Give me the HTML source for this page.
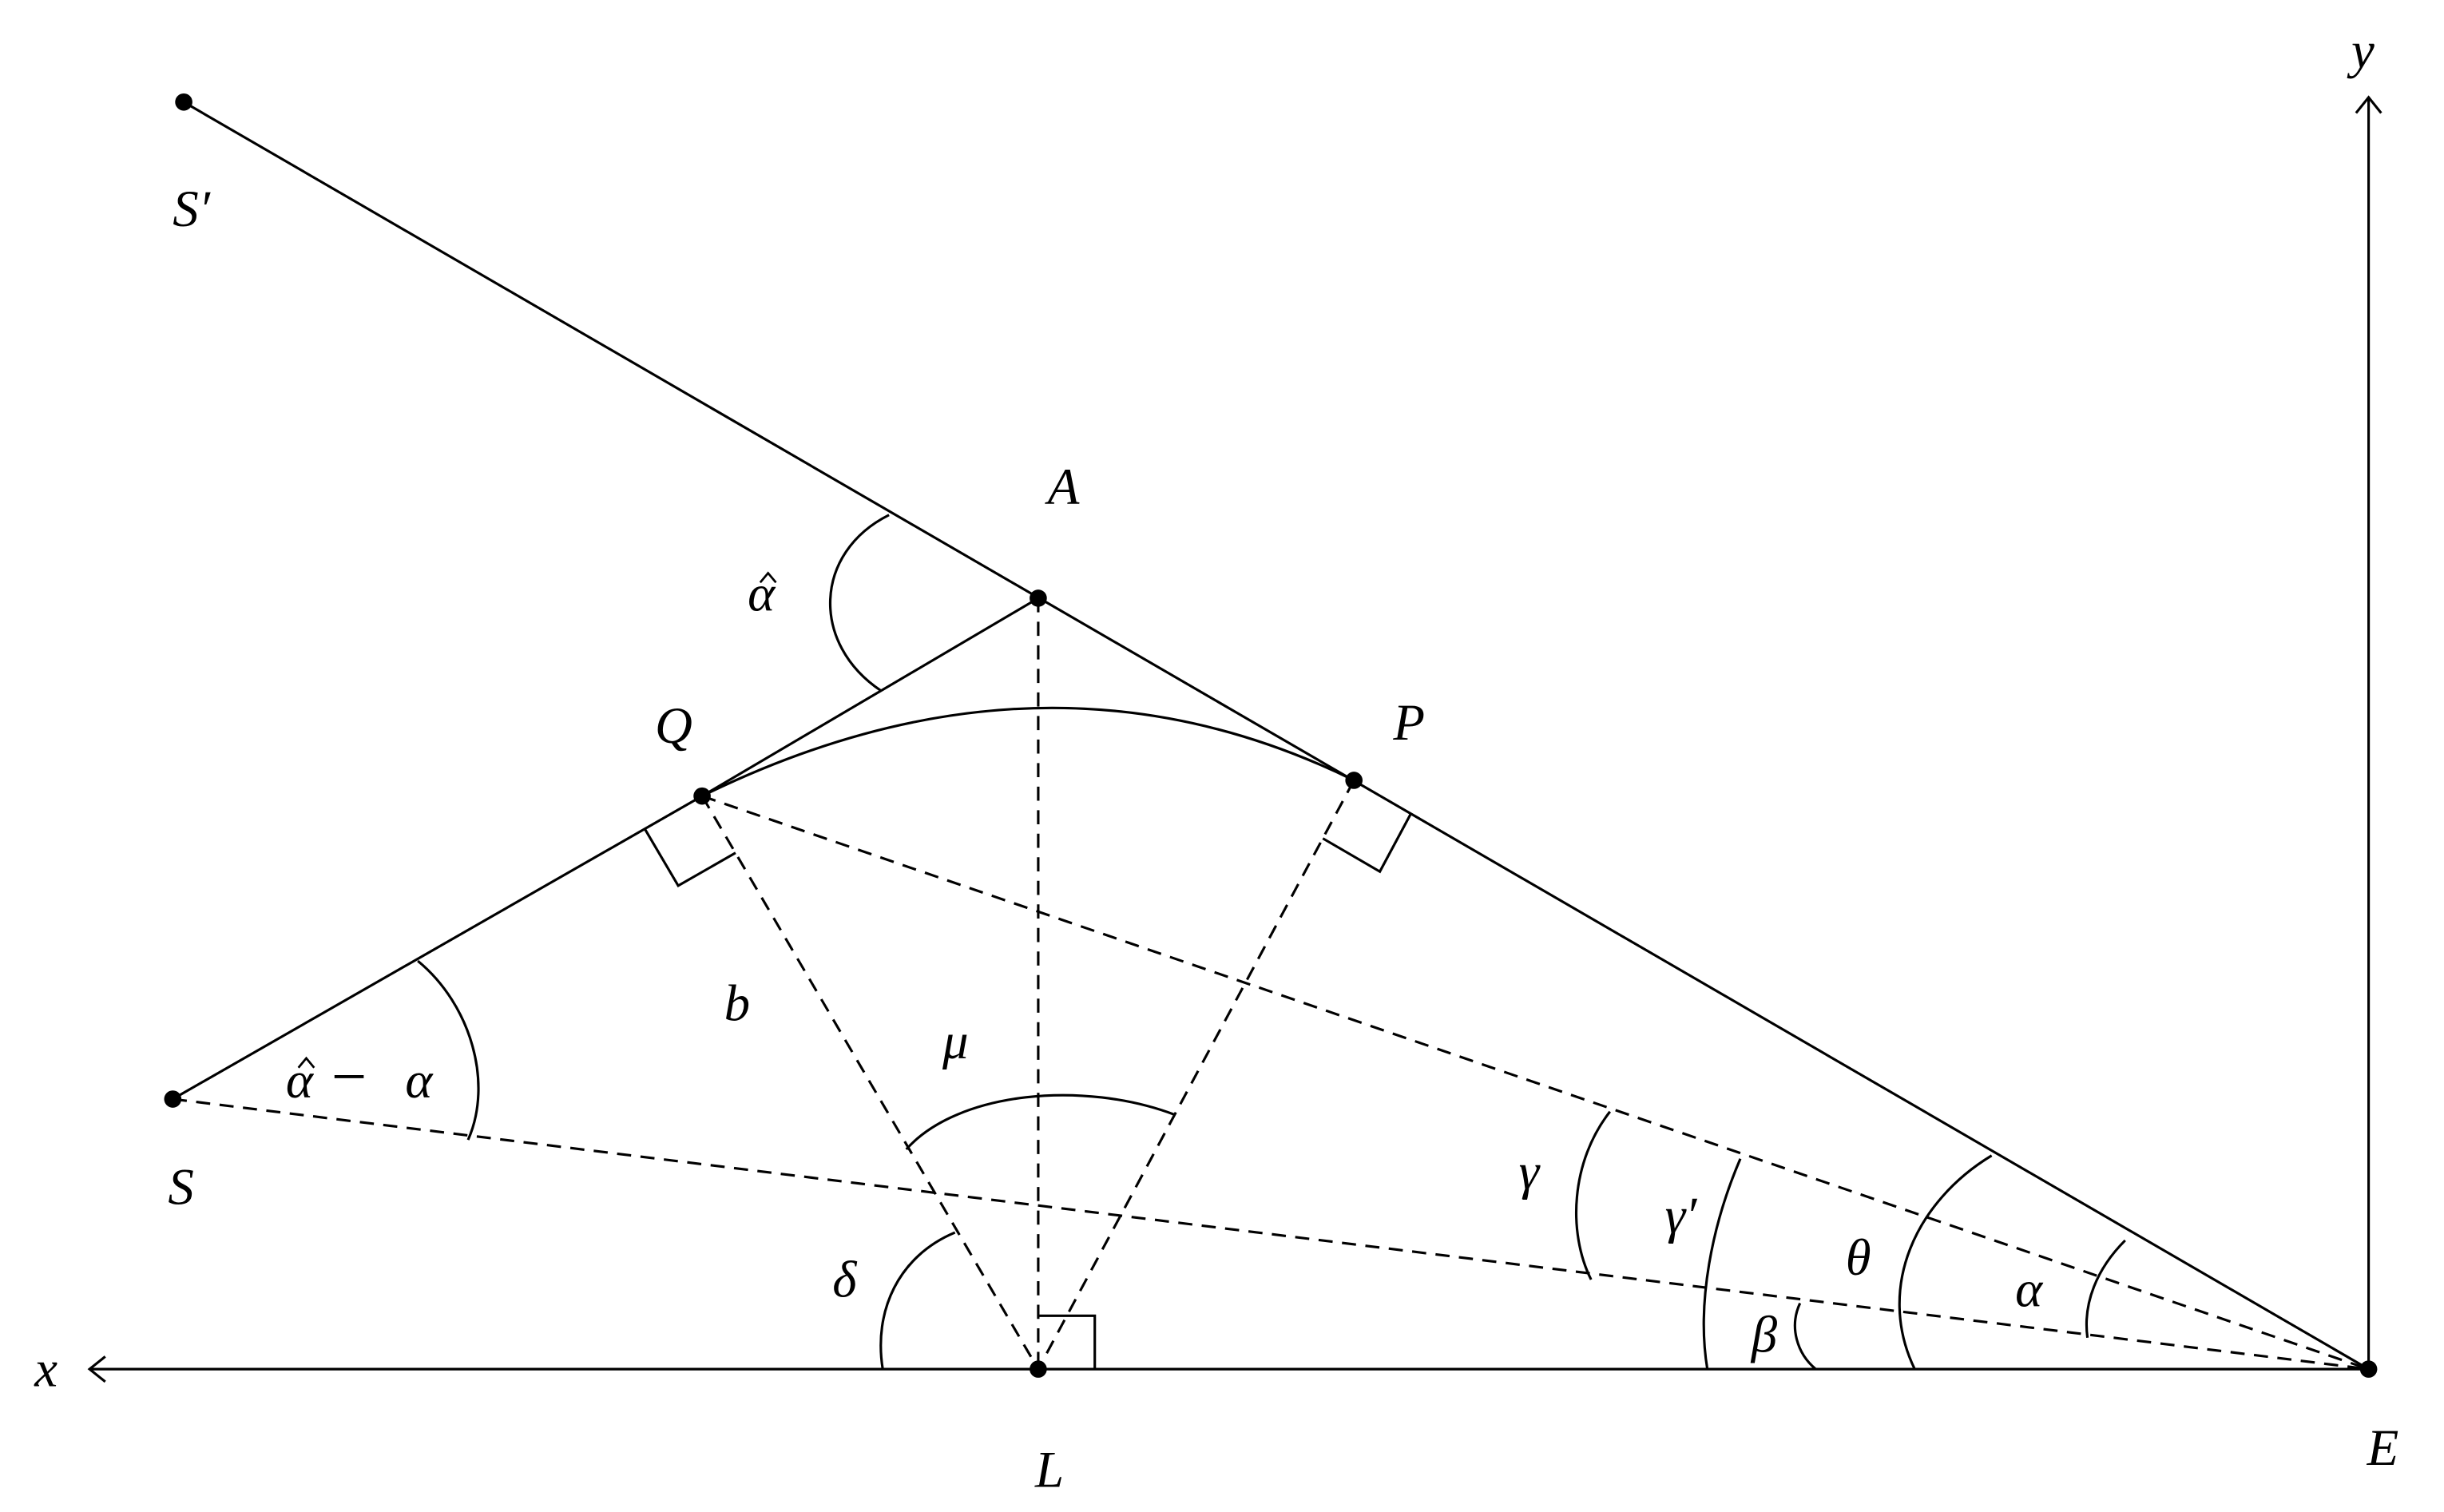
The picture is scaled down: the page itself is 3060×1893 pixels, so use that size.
<!DOCTYPE html>
<html><head><meta charset="utf-8"><style>
html,body{margin:0;padding:0;background:#fff;}
svg{display:block;}
text{font-family:"Liberation Serif",serif;font-style:italic;font-size:33px;fill:#000;}
</style></head><body>
<svg width="3060" height="1893" viewBox="0 0 1556 963" preserveAspectRatio="none" xmlns="http://www.w3.org/2000/svg">
<g fill="none" stroke="#000" stroke-width="1.6">
<line x1="1508" y1="872" x2="57" y2="872"/>
<polyline points="67,864 57,872 67,880"/>
<line x1="1508" y1="872" x2="1508" y2="62"/>
<polyline points="1500,72 1508,62 1516,72"/>
<line x1="117" y1="65" x2="1508" y2="872"/>
<polyline points="110,700 447,507 661,381"/>
<path d="M447,507 Q665,400 862,497"/>
<polyline points="410.5,527.9 431.8,564.1 468.3,543.2"/>
<polyline points="898.3,518.1 878.5,555.1 842.2,534"/>
<polyline points="661,838 697,838 697,872"/>
<path d="M566,328 C518,352 516,410 561,440"/>
<path d="M266,612 C300,640 314,690 298,726"/>
<path d="M577,732 C610,695 690,688 748,710"/>
<path d="M608,785 C572,800 556,835 562,872"/>
<path d="M1025,708 C1000,740 998,785 1013,815"/>
<path d="M1108,738 C1090,780 1080,830 1087,872"/>
<path d="M1268,736 C1220,765 1194,820 1219,872"/>
<path d="M1146,830 C1139,845 1144,862 1156,872"/>
<path d="M1353,790 C1335,808 1326,830 1329,852"/>
</g>
<g fill="none" stroke="#000" stroke-width="1.6" stroke-dasharray="9,6">
<line x1="110" y1="700" x2="1508" y2="872"/>
<line x1="447" y1="507" x2="1508" y2="872"/>
<line x1="661" y1="381" x2="661" y2="872"/>
<line x1="447" y1="507" x2="661" y2="872"/>
<line x1="862" y1="497" x2="661" y2="872"/>
</g>
<g fill="none" stroke="#000" stroke-width="1.4">
<polyline points="484,371 489,365 494,371"/>
<polyline points="190,680 195,674 200,680"/>
</g>
<g fill="#000">
<circle cx="117" cy="65" r="5.5"/>
<circle cx="661" cy="381" r="5.5"/>
<circle cx="447" cy="507" r="5.5"/>
<circle cx="862" cy="497" r="5.5"/>
<circle cx="110" cy="700" r="5.5"/>
<circle cx="661" cy="872" r="5.5"/>
<circle cx="1508" cy="872" r="5.5"/>
</g>
<text x="110" y="144">S′</text>
<text x="667" y="321">A</text>
<text x="476" y="389">α</text>
<text x="417" y="473">Q</text>
<text x="887" y="471">P</text>
<text x="461" y="650">b</text>
<text x="600" y="674">μ</text>
<text x="182" y="699">α</text>
<text x="211" y="699" style="font-style:normal;font-size:40px">−</text>
<text x="258" y="699">α</text>
<text x="107" y="767">S</text>
<text x="967" y="757">γ</text>
<text x="1060" y="785">γ′</text>
<text x="1175" y="812">θ</text>
<text x="1283" y="832">α</text>
<text x="1115" y="861">β</text>
<text x="530" y="826">δ</text>
<text x="659" y="947">L</text>
<text x="1507" y="933">E</text>
<text x="22" y="883">x</text>
<text x="1497" y="43">y</text>
</svg>
</body></html>
